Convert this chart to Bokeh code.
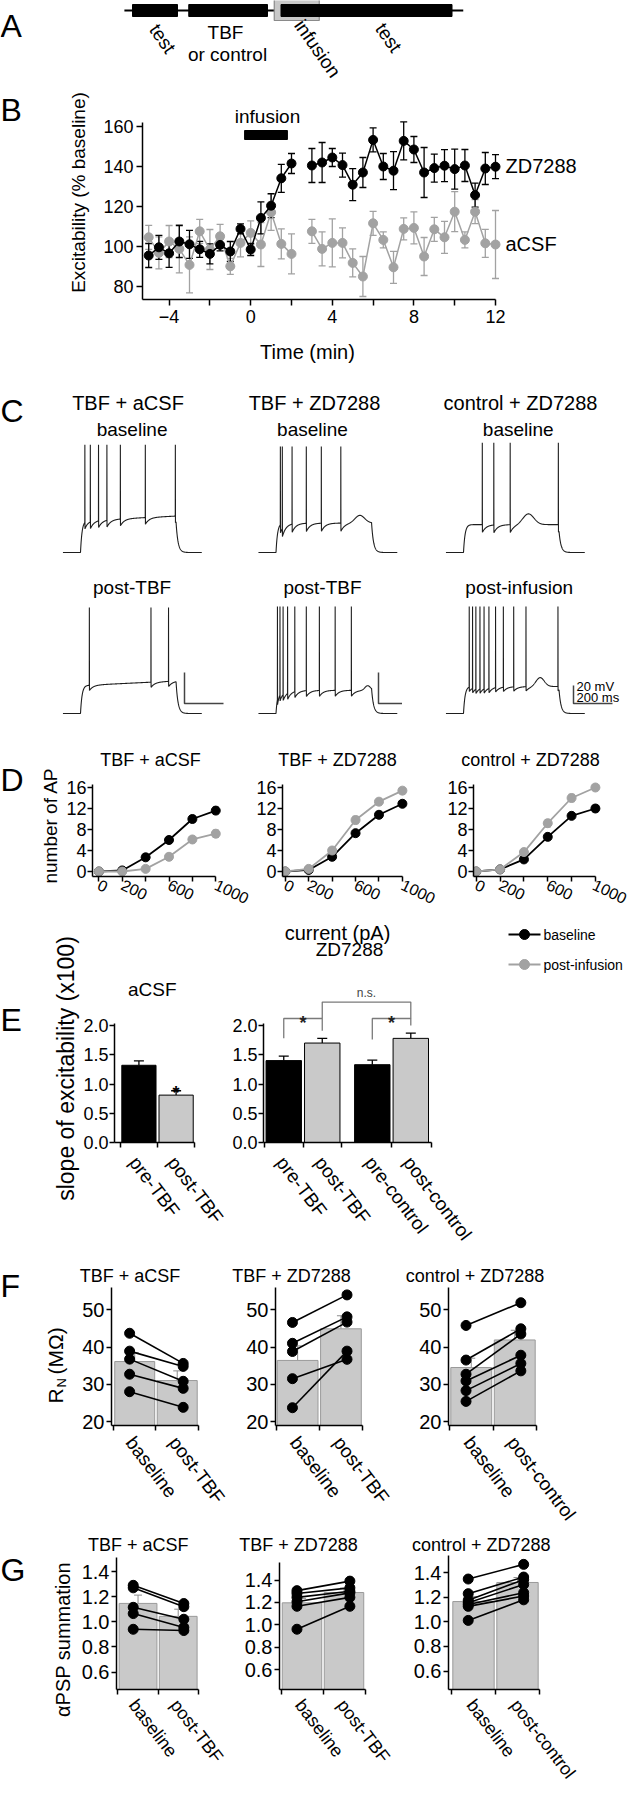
import numpy as np
from bokeh.plotting import figure
from bokeh.layouts import column, row
from bokeh.models import (Range1d, Label, FixedTicker, PrintfTickFormatter,
                          Whisker, TeeHead, ColumnDataSource)
from bokeh.embed import file_html
from bokeh.resources import INLINE

FONT = "Liberation Sans"
GRAY = "#a2a2a2"
BAR_GRAY = "#c9c9c9"
BAR_EDGE = "#9a9a9a"

# ======================= DATA =======================
# A: protocol schematic (minutes, arbitrary origin)
protocol_labels = ["test", "TBF\nor control", "infusion", "test"]
protocol_start = [0.0, 12.5, 31.5, 33.0]
protocol_end = [10.0, 30.0, 41.5, 71.0]
timeline_extent = [-1.8, 73.5]

# B: excitability time course
b_time = [-5.0, -4.5, -4.0, -3.5, -3.0, -2.5, -2.0, -1.5, -1.0, -0.5, 0.0, 0.5, 1.0, 1.5, 2.0,
          3.0, 3.5, 4.0, 4.5, 5.0, 5.5, 6.0, 6.5, 7.0, 7.5, 8.0, 8.5, 9.0, 9.5, 10.0, 10.5, 11.0, 11.5, 12.0]
b_zd_mean = [95.5, 99.6, 96.6, 102.5, 101.1, 98.6, 96.3, 100.8, 97.5, 108.8, 98.5, 114.3, 120.4, 134.1, 141.5,
             140.5, 142.0, 144.5, 140.7, 130.9, 137.0, 153.3, 140.0, 137.9, 152.8, 148.5, 137.0, 139.2, 140.4,
             138.7, 140.5, 125.7, 139.0, 139.9]
b_zd_sem = [6, 6, 7, 8, 7, 4, 5, 3, 5, 2.5, 3, 8, 6, 7, 5,
            8.5, 10, 4.5, 6, 8, 7.5, 6, 6.5, 9.5, 9.5, 6.5, 12.5, 7, 8, 10, 8, 6, 8, 6]
b_acsf_mean = [104.6, 96.8, 102.5, 98.8, 90.8, 107.6, 98.5, 105.1, 90.1, 101.8, 106.8, 101.0, 117.1, 101.3, 96.3,
               107.6, 98.8, 101.8, 101.8, 91.8, 85.0, 111.6, 103.3, 89.6, 108.8, 109.3, 95.0, 108.6, 104.6,
               117.4, 103.3, 117.4, 101.6, 101.0]
b_acsf_sem = [6, 8, 8, 12, 14, 6, 10, 6, 4, 7, 6, 11, 9, 7.5, 10,
              6, 8.5, 12, 7.5, 7, 10, 6, 4, 8, 5.5, 8, 9.5, 6, 8, 10, 4, 6, 7, 17]
infusion_window = [-0.3, 1.8]
b_series_names = ["ZD7288", "aCSF"]

# C: example traces (spike times in ms after current-step onset)
conditions = ["TBF + aCSF", "TBF + ZD7288", "control + ZD7288"]
c_top_label = "baseline"
c_bottom_labels = ["post-TBF", "post-TBF", "post-infusion"]
c_spikes_base = [[22, 50, 92, 135, 204, 332, 486], [22, 32, 82, 155, 232, 332], [96, 155, 239, 486]]
c_spikes_post = [[45, 361, 451], [7, 20, 36, 59, 96, 155, 222, 303, 386],
                 [29, 46, 63, 84, 105, 130, 164, 204, 257, 320, 484]]
c_rest = -66.0
c_plateau_base = [-45.5, -47.0, -35.0]
c_plateau_post = [-48.0, -51.0, -36.0]
c_peak_base = [3.5, 2.4, 56.0]
c_peak_post = [2.4, 3.0, 53.0]
c_ahp_base = [4.5, 5.5, 9.0]
c_ahp_post = [3.5, 4.0, 5.0]
c_drift_base = [3.0, 0.0, 0.0]
c_drift_post = [3.0, 0.0, 0.0]
c_hump_base = [None, (430, 5, 35), (333, 12, 40)]
c_hump_post = [None, (470, 3, 20), (393, 10, 30)]
scale_mv, scale_ms = 20.0, 200.0

# D: number of APs vs injected current
d_current = [0, 200, 400, 600, 800, 1000]
d_labeled_current = [0, 200, 600, 1000]
d_base = [[0, 0.2, 2.7, 6.0, 10.0, 11.6], [0, 0.3, 2.8, 7.3, 10.8, 12.9], [0, 0.4, 2.3, 6.6, 10.6, 12.0]]
d_post = [[0, 0.0, 0.5, 2.8, 6.1, 7.2], [0, 0.5, 4.0, 9.8, 13.3, 15.4], [0, 0.4, 3.7, 9.2, 14.0, 16.0]]
d_base_sem = [[0, 0.1, 0.6, 0.6, 0.6, 0.6], [0, 0.1, 0.4, 0.5, 0.5, 0.5], [0, 0.1, 0.4, 0.5, 0.5, 0.6]]
d_post_sem = [[0, 0.0, 0.3, 0.6, 0.5, 0.7], [0, 0.2, 0.5, 0.7, 0.6, 0.6], [0, 0.2, 0.6, 0.7, 0.7, 0.5]]
legend_names = ["baseline", "post-infusion"]

# E: slope of excitability
e_groups = ["aCSF", "ZD7288"]
e_acsf_labels = ["pre-TBF", "post-TBF"]
e_acsf_mean = [1.32, 0.81]
e_acsf_sem = [0.075, 0.075]
e_zd_labels = ["pre-TBF", "post-TBF", "pre-control", "post-control"]
e_zd_mean = [1.40, 1.70, 1.33, 1.78]
e_zd_sem = [0.077, 0.08, 0.077, 0.09]

# F: input resistance (MOhm), paired cells
f_xlabels = [["baseline", "post-TBF"], ["baseline", "post-TBF"], ["baseline", "post-control"]]
f_base = [[43.7, 38.9, 36.75, 32.7, 28.0], [46.6, 41.0, 38.8, 31.5, 23.7], [45.8, 36.5, 32.7, 30.9, 28.3, 25.4]]
f_post = [[35.6, 34.8, 30.8, 28.9, 23.8], [54.0, 48.1, 46.7, 36.7, 38.9], [51.9, 44.9, 43.5, 37.8, 35.6, 33.6]]
f_bar_mean = [[36.1, 31.0], [36.4, 44.9], [34.5, 41.9]]
f_bar_sem = [[2.4, 2.6], [3.9, 3.5], [2.5, 2.6]]

# G: aPSP summation, paired cells
g_base = [[1.29, 1.27, 1.115, 1.065, 0.94], [1.305, 1.28, 1.245, 1.205, 1.165, 0.96],
          [1.347, 1.228, 1.175, 1.155, 1.14, 1.125, 1.011]]
g_post = [[1.145, 1.12, 1.02, 0.955, 0.93], [1.39, 1.33, 1.30, 1.285, 1.245, 1.165],
          [1.466, 1.363, 1.342, 1.302, 1.236, 1.209, 1.178]]
g_bar_mean = [[1.146, 1.043], [1.196, 1.288], [1.164, 1.319]]
g_bar_sem = [[0.066, 0.057], [0.04, 0.04], [0.04, 0.04]]


# ======================= HELPERS =======================
def make_panel(box, frame, xmap, ymap, axes=True):
    x0, y0, x1, y1 = box
    fx0, fy0, fx1, fy1 = [int(round(v)) for v in frame]
    (xd0, xp0), (xd1, xp1) = xmap
    (yd0, yp0), (yd1, yp1) = ymap
    sx = (xp1 - xp0) / (xd1 - xd0)
    sy = (yp1 - yp0) / (yd1 - yd0)

    def X(px):
        return xd0 + (px - xp0) / sx

    def Y(py):
        return yd0 + (py - yp0) / sy

    kw = dict(width=int(x1 - x0), height=int(y1 - y0),
              x_range=Range1d(X(fx0), X(fx1)), y_range=Range1d(Y(fy1), Y(fy0)),
              min_border_left=fx0 - x0, min_border_right=x1 - fx1,
              min_border_top=fy0 - y0, min_border_bottom=y1 - fy1,
              output_backend="svg", toolbar_location=None, title=None)
    if not axes:
        kw.update(x_axis_location=None, y_axis_location=None)
    p = figure(**kw)
    try:
        p.frame_align = False
    except Exception:
        pass
    p.xgrid.visible = False
    p.ygrid.visible = False
    p.outline_line_color = None
    p.background_fill_color = "white"
    p.border_fill_color = "white"
    return p, X, Y


def strip(box):
    """Text-only canvas whose data coordinates are page pixels."""
    p, _, _ = make_panel(box, box, ((0, 0), (1, 1)), ((0, 0), (1, 1)), axes=False)
    return p


def to_px(xmap, d):
    (xd0, xp0), (xd1, xp1) = xmap
    return xp0 + (d - xd0) * (xp1 - xp0) / (xd1 - xd0)


def style_axis(ax, ticks, minor=None, fmt=None, size=18, orient=None,
               tick_out=6, minor_out=6, bounds=None, standoff=3):
    ax.ticker = FixedTicker(ticks=ticks, minor_ticks=minor or [])
    ax.axis_line_width = 1.5
    ax.axis_line_color = "black"
    ax.major_tick_line_width = 1.5
    ax.minor_tick_line_width = 1.5
    ax.major_tick_line_color = "black"
    ax.minor_tick_line_color = "black"
    ax.major_tick_in = 0
    ax.minor_tick_in = 0
    ax.major_tick_out = tick_out
    ax.minor_tick_out = minor_out
    ax.major_label_text_font = FONT
    ax.major_label_text_font_size = f"{size}px"
    ax.major_label_text_color = "black"
    ax.major_label_standoff = standoff
    if fmt:
        ax.formatter = PrintfTickFormatter(format=fmt)
    if orient is not None:
        ax.major_label_orientation = orient
    if bounds:
        ax.bounds = bounds


def lab(p, x, y, text, size, angle=0.0, align="center", baseline="middle", color="black", bold=False):
    p.add_layout(Label(x=x, y=y, text=text, text_font=FONT, text_font_size=f"{size}px", angle=angle,
                       text_align=align, text_baseline=baseline, text_color=color,
                       text_font_style="bold" if bold else "normal"))


def errbars(p, x, lower, upper, color, head=8, width=1.3, both=True):
    src = ColumnDataSource(dict(x=list(x), lower=list(lower), upper=list(upper)))
    p.add_layout(Whisker(source=src, base="x", lower="lower", upper="upper",
                         line_color=color, line_width=width,
                         upper_head=TeeHead(size=head, line_color=color, line_width=width),
                         lower_head=TeeHead(size=head, line_color=color, line_width=width) if both else None))


def build_trace(spikes, rest, plateau, peak, ahp, drift=0.0, hump=None, step_end=490.0, t0=-90.0, t1=622.0):
    t = np.arange(t0, t1 + 0.1, 1.0)
    v = np.full(t.shape, float(rest))
    on = (t >= 0) & (t < step_end)
    ton = t[on]
    v[on] = rest + (plateau - rest) * (1.0 - np.exp(-ton / 8.0)) + drift * ton / step_end
    if hump is not None:
        hc, ha, hw = hump
        v[on] += ha * np.exp(-((ton - hc) / hw) ** 2)
    for s in spikes:
        m = on & (t > s)
        v[m] -= ahp * np.exp(-(t[m] - s) / 20.0)
    v_end = v[on][-1]
    off = t >= step_end
    v[off] = rest + (v_end - rest) * np.exp(-(t[off] - step_end) / 10.0)
    xs, ys = [], []
    sp = sorted(spikes)
    j = 0
    for i in range(len(t)):
        xs.append(float(t[i]))
        ys.append(float(v[i]))
        while j < len(sp) and t[i] <= sp[j] < t[i] + 1.0:
            xs.append(sp[j] + 0.4)
            ys.append(peak)
            j += 1
    return xs, ys


def letter(p, px, py, ch):
    lab(p, px, py, ch, 32, align="left", baseline="alphabetic")


CAT_ANGLE = -0.92


def cat_labels(sp, centers_px, labels, axis_py, size):
    for cx, text in zip(centers_px, labels):
        lab(sp, cx + 5, axis_py, text, size, angle=CAT_ANGLE, align="left", baseline="top")


def cat_xaxis(p, bounds_px_start, X, boundaries, end):
    # category axis: only tick marks at the bar boundaries; the names are drawn below it
    style_axis(p.xaxis[0], [], minor=boundaries, size=18, tick_out=5, minor_out=5, standoff=0,
               bounds=(X(bounds_px_start), end))


# ======================= A =======================
pA, X, Y = make_panel((8, 8, 636, 90), (8, 8, 636, 90), ((0, 140), (10, 185)), ((0, 18), (1, 17)), axes=False)
pA.line(timeline_extent, [0, 0], line_color="black", line_width=2)
pA.quad(left=[protocol_start[2]], right=[protocol_end[2]], bottom=[-10], top=[11],
        fill_color="#c8c8c8", line_color="#8a8a8a", line_width=1.2)
for i in (0, 1, 3):
    pA.quad(left=[protocol_start[i]], right=[protocol_end[i]], bottom=[-6], top=[6],
            fill_color="black", line_color="black")
lab(pA, X(8), Y(33), "A", 32, align="left", baseline="alphabetic")
a_rot = -0.96
lab(pA, X(170), Y(46), protocol_labels[0], 19, angle=a_rot)
tbf_lines = protocol_labels[1].split("\n")
lab(pA, X(233), Y(40), tbf_lines[0], 19)
lab(pA, X(235), Y(61.5), tbf_lines[1], 19)
lab(pA, X(325), Y(56), protocol_labels[2], 19, angle=a_rot)
lab(pA, X(396), Y(45), protocol_labels[3], 19, angle=a_rot)

# ======================= B =======================
sB = strip((8, 90, 100, 345))
letter(sB, 8, 117, "B")
lab(sB, 86, 200, "Excitability (% baseline)", 19, angle=np.pi / 2)

pB, X, Y = make_panel((100, 90, 636, 345), (150, 108, 636, 307), ((-4, 176.6), (12, 503)), ((160, 134), (80, 294)))
style_axis(pB.xaxis[0], [-4, 0, 4, 8, 12], minor=[-2, 2, 6, 10], size=18, bounds=(X(150), 12), standoff=4)
style_axis(pB.yaxis[0], [80, 100, 120, 140, 160], size=18, bounds=(Y(307), 162), standoff=3)
t = np.array(b_time)
pre, post = t <= 2, t >= 3
for mean, sem, col in [(b_acsf_mean, b_acsf_sem, GRAY), (b_zd_mean, b_zd_sem, "black")]:
    m, s = np.array(mean), np.array(sem)
    errbars(pB, t, m - s, m + s, col, head=7, width=1.3)
for mean, col in [(b_acsf_mean, GRAY), (b_zd_mean, "black")]:
    m = np.array(mean)
    pB.line(t[pre], m[pre], line_color=col, line_width=1.5)
    pB.line(t[post], m[post], line_color=col, line_width=1.5)
    pB.scatter(t, m, size=9, fill_color=col, line_color=col)
pB.quad(left=[infusion_window[0]], right=[infusion_window[1]], bottom=[153.5], top=[158],
        fill_color="black", line_color="black")
lab(pB, X(275), Y(124), "infusion", 19)
lab(pB, X(513), Y(173), b_series_names[0], 20, align="left")
lab(pB, X(513), Y(251), b_series_names[1], 20, align="left")

# ======================= C =======================
c_cols = [(8, 252, 88.0, 1.55), (252, 410, 283.5, 1.55), (410, 636, 471.0, 0.9)]
c_title_x = [135.5, 322, 528]
c_base_x = [139.6, 320, 525.7]
c_post_x = [139.6, 330, 526.7]
c_bar_x = [192, 386, 581]
ctop, cbot = [], []
for k, (x0, x1, onset, kmv) in enumerate(c_cols):
    xmap = ((0, onset), (1000, onset + 195))
    p, X, Y = make_panel((x0, 345, x1, 575), (x0, 345, x1, 575), xmap,
                         ((c_rest, 560), (c_rest + 20, 560 - 20 * kmv)), axes=False)
    xs, ys = build_trace(c_spikes_base[k], c_rest, c_plateau_base[k], c_peak_base[k], c_ahp_base[k],
                         c_drift_base[k], c_hump_base[k])
    p.line(xs, ys, line_color="#1e1e1e", line_width=1.1)
    lab(p, X(c_title_x[k]), Y(410), conditions[k], 20)
    lab(p, X(c_base_x[k]), Y(437), c_top_label, 19)
    if k == 0:
        lab(p, X(8), Y(418), "C", 32, align="left", baseline="alphabetic")
    if k == 1:
        lab(p, X(315), Y(359), "Time (min)", 20)
    ctop.append(p)

    p, X, Y = make_panel((x0, 575, x1, 728), (x0, 575, x1, 728), xmap,
                         ((c_rest, 721), (c_rest + 20, 721 - 20 * kmv)), axes=False)
    xs, ys = build_trace(c_spikes_post[k], c_rest, c_plateau_post[k], c_peak_post[k], c_ahp_post[k],
                         c_drift_post[k], c_hump_post[k])
    p.line(xs, ys, line_color="#1e1e1e", line_width=1.1)
    lab(p, X(c_post_x[k]), Y(595), c_bottom_labels[k], 19)
    bx, by = X(c_bar_x[k]), Y(711)
    p.line([bx, bx, bx + scale_ms], [by + scale_mv, by, by], line_color="#444444", line_width=1.5)
    if k == 2:
        lab(p, X(584), Y(694), f"{int(scale_mv)} mV", 13, align="left")
        lab(p, X(584), Y(705), f"{int(scale_ms)} ms", 13, align="left")
    cbot.append(p)

# ======================= D =======================
sD = strip((8, 728, 71, 928))
letter(sD, 8, 787, "D")
lab(sD, 58, 833, "number of AP", 19, angle=np.pi / 2)
tD = strip((71, 728, 636, 780))
d_boxes = [(71, 780, 258, 928), (258, 780, 447, 928), (447, 780, 636, 928)]
d_frames = [(97, 780, 258, 884), (290, 780, 447, 884), (481, 780, 636, 884)]
d_xpx = [(103.5, 222.6), (292.8, 409.9), (483.8, 602.9)]
d_title_x = [158, 345, 538]
dfigs = []
for k in range(3):
    p, X, Y = make_panel(d_boxes[k], d_frames[k], ((0, d_xpx[k][0]), (1000, d_xpx[k][1])), ((0, 879), (16, 795)))
    unlabeled = [c for c in d_current if c not in d_labeled_current]
    style_axis(p.xaxis[0], d_labeled_current, minor=unlabeled, size=16, orient=-0.45,
               tick_out=5, minor_out=5, bounds=(X(d_frames[k][0]), 1000), standoff=2)
    style_axis(p.yaxis[0], [0, 4, 8, 12, 16], size=18, tick_out=5, bounds=(Y(884), 16.6), standoff=1)
    cur = np.array(d_current, dtype=float)
    for vals, sem, col in [(d_base[k], d_base_sem[k], "black"), (d_post[k], d_post_sem[k], GRAY)]:
        v, s = np.array(vals), np.array(sem)
        errbars(p, cur, v - s, v + s, col, head=6, width=1.2)
        p.line(cur, v, line_color=col, line_width=1.8)
        p.scatter(cur, v, size=9, fill_color=col, line_color=col)
    lab(tD, d_title_x[k], 767, conditions[k], 18)
    dfigs.append(p)

# ======================= E =======================
def bar_colors(labels):
    return ["black" if l.startswith("pre") else BAR_GRAY for l in labels]


E_BOTTOM = 1160  # lower edge of the E plot canvases (room for the "0.0" tick labels)
sE = strip((8, 928, 88, 1254))
letter(sE, 8, 1027, "E")
lab(sE, 73, 1076, "slope of excitability (x100)", 23, angle=np.pi / 2)

e1_xmap = ((0, 125), (1, 163.4))
pE1, X1, Y1 = make_panel((88, 928, 215, E_BOTTOM), (119, 980, 215, 1150), e1_xmap, ((0, 1150), (2, 1033)))
e1_pos = [i + 0.5 for i in range(len(e_acsf_labels))]
style_axis(pE1.yaxis[0], [0, 0.5, 1.0, 1.5, 2.0], fmt="%.1f", size=18, tick_out=5, bounds=(0, 2.03), standoff=1)
cat_xaxis(pE1, 119, X1, [0, 1, 2], 2.0)
pE1.vbar(x=e1_pos, top=e_acsf_mean, bottom=0, width=0.92, fill_color=bar_colors(e_acsf_labels),
         line_color="black", line_width=1)
errbars(pE1, e1_pos, e_acsf_mean, np.array(e_acsf_mean) + np.array(e_acsf_sem), "black", head=10, both=False)
lab(pE1, e1_pos[1], Y1(1100), "*", 18, baseline="alphabetic", bold=True)
lab(pE1, X1(158), Y1(997), e_groups[0], 19)

e2_xmap = ((0, 272), (1, 310.5))
pE2, X, Y = make_panel((215, 928, 636, E_BOTTOM), (271, 928, 636, 1150), e2_xmap, ((0, 1150), (2, 1033)))
e2_pos = [i + 0.5 + (0.3 if i >= 2 else 0.0) for i in range(len(e_zd_labels))]
style_axis(pE2.yaxis[0], [0, 0.5, 1.0, 1.5, 2.0], fmt="%.1f", size=18, tick_out=5, bounds=(0, 2.03), standoff=1)
cat_xaxis(pE2, 271, X, [0, 1, 2, 3.3, 4.33], 4.35)
pE2.vbar(x=e2_pos, top=e_zd_mean, bottom=0, width=0.92, fill_color=bar_colors(e_zd_labels),
         line_color="black", line_width=1)
errbars(pE2, e2_pos, e_zd_mean, np.array(e_zd_mean) + np.array(e_zd_sem), "black", head=10, both=False)
sig_pairs = [(0, 1), (2, 3)]
sig_leg_bottom = [(1.78, 1.91), (1.76, 2.0)]
sig_level, ns_level = 2.12, 2.40
BR = "#7a7a7a"
for (a, b), (la, lb) in zip(sig_pairs, sig_leg_bottom):
    xa, xb = e2_pos[a], e2_pos[b]
    pE2.line([xa, xa, xb, xb], [la, sig_level, sig_level, lb], line_color=BR, line_width=1.3)
    lab(pE2, (xa + xb) / 2, Y(1030), "*", 18, baseline="alphabetic", bold=True, color="#222222")
xa, xb = e2_pos[1], e2_pos[3]
pE2.line([xa, xa, xb, xb], [sig_level, ns_level, ns_level, sig_level], line_color=BR, line_width=1.3)
lab(pE2, (xa + xb) / 2, ns_level + 0.04, "n.s.", 12, baseline="bottom", color="#444444")
lab(pE2, X(357), Y(957), e_groups[1], 19)
lab(pE2, X(345), Y(940), "current (pA)", 20)
for i, (name, col) in enumerate(zip(legend_names, ["black", GRAY])):
    py = 942 + 30 * i
    pE2.line([X(516), X(548)], [Y(py), Y(py)], line_color=col, line_width=1.8)
    pE2.scatter([X(532)], [Y(py)], size=10, fill_color=col, line_color=col)
    lab(pE2, X(551), Y(py), name, 14, align="left")

stE = strip((88, E_BOTTOM, 636, 1254))
cat_labels(stE, [to_px(e1_xmap, d) for d in e1_pos], e_acsf_labels, E_BOTTOM, 19)
cat_labels(stE, [to_px(e2_xmap, d) for d in e2_pos], e_zd_labels, E_BOTTOM, 19)

# ======================= F & G =======================
def paired_panel(box, frame, xmap, ymap, yticks, fmt, ysize, ytop, base, post, mean, sem):
    p, X, Y = make_panel(box, frame, xmap, ymap)
    bar_pos = [0.5, 1.5]
    style_axis(p.yaxis[0], yticks, fmt=fmt, size=ysize, tick_out=5, bounds=(Y(frame[3]), ytop), standoff=2)
    cat_xaxis(p, frame[0], X, [0, 1, 2], 2.0)
    p.vbar(x=bar_pos, top=mean, bottom=0, width=0.94, fill_color=BAR_GRAY, line_color=BAR_EDGE, line_width=1)
    errbars(p, bar_pos, mean, np.array(mean) + np.array(sem), "#8c8c8c", head=8, width=1.0, both=False)
    n = len(base)
    p.segment(x0=[0.38] * n, y0=base, x1=[1.64] * n, y1=post, line_color="black", line_width=1.6)
    p.scatter([0.38] * n, base, size=10, fill_color="black", line_color="black")
    p.scatter([1.64] * n, post, size=10, fill_color="black", line_color="black")
    return p, bar_pos


sF = strip((8, 1254, 87, 1532))
letter(sF, 8, 1293, "F")
lab(sF, 63, 1411, "R", 21, angle=np.pi / 2, align="left")
lab(sF, 69, 1395, "N", 13, angle=np.pi / 2, align="left")
lab(sF, 63, 1382, "(MΩ)", 21, angle=np.pi / 2, align="left")
tF = strip((87, 1254, 636, 1294))
f_boxes = [(87, 1294, 215, 1440), (215, 1294, 400, 1440), (400, 1294, 636, 1440)]
f_frames = [(117, 1294, 215, 1433), (283, 1294, 400, 1433), (456, 1294, 636, 1433)]
f_xmaps = [((0, 119), (1, 162.4)), ((0, 283.5), (1, 326.8)), ((0, 457), (1, 500.5))]
f_title_x = [137.6, 299, 482.5]
ffigs = []
stF = strip((87, 1440, 636, 1532))
for k in range(3):
    p, bar_pos = paired_panel(f_boxes[k], f_frames[k], f_xmaps[k], ((50, 1317.3), (20, 1429)), [20, 30, 40, 50],
                              None, 20, 56, f_base[k], f_post[k], f_bar_mean[k], f_bar_sem[k])
    lab(tF, f_title_x[k], 1283, conditions[k], 18)
    cat_labels(stF, [to_px(f_xmaps[k], d) for d in bar_pos], f_xlabels[k], 1440, 19)
    ffigs.append(p)

sG = strip((8, 1532, 86, 1792))
letter(sG, 8, 1577, "G")
lab(sG, 70, 1647, "αPSP summation", 20, angle=np.pi / 2)
tG = strip((86, 1532, 636, 1562))
g_boxes = [(86, 1562, 215, 1703), (215, 1562, 405, 1703), (405, 1562, 636, 1703)]
g_frames = [(121, 1562, 215, 1697), (287, 1562, 405, 1697), (456, 1562, 636, 1697)]
g_xmaps = [((0, 122.5), (1, 164)), ((0, 288.5), (1, 330.5)), ((0, 459), (1, 503))]
g_ymaps = [((1.4, 1579), (0.6, 1679.5)), ((1.4, 1587.5), (0.6, 1677)), ((1.4, 1580), (0.6, 1678.5))]
g_tops = [1.51, 1.556, 1.54]
g_title_x = [145.8, 306, 488.7]
gfigs = []
stG = strip((86, 1703, 636, 1792))
for k in range(3):
    p, bar_pos = paired_panel(g_boxes[k], g_frames[k], g_xmaps[k], g_ymaps[k], [0.6, 0.8, 1.0, 1.2, 1.4],
                              "%.1f", 20, g_tops[k], g_base[k], g_post[k], g_bar_mean[k], g_bar_sem[k])
    lab(tG, g_title_x[k], 1552, conditions[k], 18)
    cat_labels(stG, [to_px(g_xmaps[k], d) for d in bar_pos], f_xlabels[k], 1703, 18)
    gfigs.append(p)

layout = column(
    pA,
    row(sB, pB, spacing=0),
    row(*ctop, spacing=0),
    row(*cbot, spacing=0),
    row(sD, column(tD, row(*dfigs, spacing=0), spacing=0), spacing=0),
    row(sE, column(row(pE1, pE2, spacing=0), stE, spacing=0), spacing=0),
    row(sF, column(tF, row(*ffigs, spacing=0), stF, spacing=0), spacing=0),
    row(sG, column(tG, row(*gfigs, spacing=0), stG, spacing=0), spacing=0),
    spacing=0,
)

open("out.html", "w").write(file_html(layout, INLINE, title="Excitability figure"))
